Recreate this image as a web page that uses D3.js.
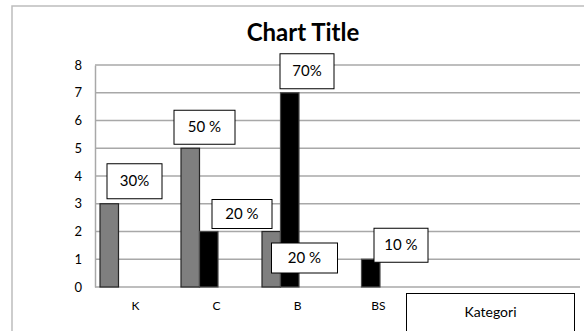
<!DOCTYPE html>
<html>
<head>
<meta charset="utf-8">
<script src="https://cdn.jsdelivr.net/npm/d3@7"></script>
<style>
  html, body { margin: 0; padding: 0; background: #fff; }
  svg { display: block; font-family: Lato, "Open Sans", sans-serif; }
</style>
</head>
<body>
<svg id="chart" width="584" height="331"></svg>
<script>
// Categories and the two series of counts
const categories = ["K", "C", "B", "BS"];
const seriesNames = ["Series 1", "Series 2"];
const series1 = [3, 5, 2, 0];
const series2 = [0, 2, 7, 1];
const yTicks = [0, 1, 2, 3, 4, 5, 6, 7, 8];

// Percentage callouts: category, series, text
const calloutCats = ["K", "C", "C", "B", "B", "BS"];
const calloutSeries = [0, 0, 1, 1, 0, 1];
const calloutText = ["30%", "50 %", "20 %", "70%", "20 %", "10 %"];

const axisTitle = "Kategori";
const chartTitle = "Chart Title";

// Box placement for each callout, relative to its bar (drawing layout only)
const calloutLayout = [
  { dx: 7,    dy: -40, w: 55, h: 35 },
  { dx: -7,   dy: -38, w: 61, h: 34 },
  { dx: 12.5, dy: -32, w: 60, h: 29 },
  { dx: -0.5, dy: -39, w: 54, h: 35 },
  { dx: 9.5,  dy: 11.5, w: 66, h: 30 },
  { dx: 12.5, dy: -31, w: 54, h: 34 }
];

const svg = d3.select("#chart");
const W = 584, H = 331;
const plot = { left: 95, right: 580, top: 65, bottom: 287 };

// Outer chart frame (right and bottom edges fall outside the view)
svg.append("path")
  .attr("d", `M12,${H + 2} L12,6 L${W + 2},6`)
  .attr("fill", "none")
  .attr("stroke", "#bdbdbd")
  .attr("stroke-width", 1.5);

// Title
svg.append("text")
  .attr("x", 303)
  .attr("y", 41)
  .attr("text-anchor", "middle")
  .attr("font-weight", "bold")
  .attr("font-size", 24)
  .attr("fill", "#000")
  .text(chartTitle);

// Scales
const y = d3.scaleLinear().domain([0, 8]).range([plot.bottom, plot.top]);
const x0 = d3.scaleBand().domain(categories).range([plot.left, plot.left + 81 * categories.length]);
const x1 = d3.scaleBand().domain(d3.range(seriesNames.length)).range([5, 42]);

// Gridlines
svg.append("g")
  .selectAll("line")
  .data(yTicks)
  .join("line")
  .attr("x1", plot.left)
  .attr("x2", plot.right)
  .attr("y1", d => y(d))
  .attr("y2", d => y(d))
  .attr("stroke", "#a8a8a8")
  .attr("stroke-width", 1.5);

// Y axis
const yAxis = d3.axisLeft(y).tickValues(yTicks).tickSize(0).tickPadding(13).tickFormat(d3.format("d"));
const gy = svg.append("g").attr("transform", `translate(${plot.left},0)`).call(yAxis);
gy.select(".domain").attr("stroke", "#a8a8a8").attr("stroke-width", 1.5);
gy.selectAll("text").attr("font-size", 13).attr("fill", "#000").attr("font-family", "Lato, sans-serif");

// X axis labels
const xAxis = d3.axisBottom(x0).tickSize(0).tickPadding(14);
const gx = svg.append("g").attr("transform", `translate(0,${plot.bottom})`).call(xAxis);
gx.select(".domain").remove();
gx.selectAll("text").attr("font-size", 12).attr("fill", "#000").attr("font-family", "Lato, sans-serif");

// Bars
const fills = ["#7f7f7f", "#000000"];
const strokes = ["#262626", "#4a4a4a"];
const rows = [];
categories.forEach((c, i) => {
  [series1, series2].forEach((s, k) => {
    if (s[i] > 0) rows.push({ cat: c, k, v: s[i] });
  });
});
svg.append("g")
  .selectAll("rect")
  .data(rows)
  .join("rect")
  .attr("x", d => x0(d.cat) + x1(d.k))
  .attr("y", d => y(d.v))
  .attr("width", x1.bandwidth())
  .attr("height", d => y(0) - y(d.v))
  .attr("fill", d => fills[d.k])
  .attr("stroke", d => strokes[d.k])
  .attr("stroke-width", 1.2);

// Callout boxes
const callouts = calloutCats.map((c, i) => {
  const k = calloutSeries[i];
  const v = (k === 0 ? series1 : series2)[categories.indexOf(c)];
  const L = calloutLayout[i];
  return {
    x: x0(c) + x1(k) + L.dx,
    y: y(v) + L.dy,
    w: L.w, h: L.h, text: calloutText[i]
  };
});
const cg = svg.append("g").selectAll("g").data(callouts).join("g")
  .attr("transform", d => `translate(${d.x},${d.y})`);
cg.append("rect")
  .attr("width", d => d.w)
  .attr("height", d => d.h)
  .attr("fill", "#fff")
  .attr("stroke", "#000")
  .attr("stroke-width", 1);
cg.append("text")
  .attr("x", d => d.w / 2)
  .attr("y", d => d.h / 2 + 5)
  .attr("text-anchor", "middle")
  .attr("font-size", 15)
  .attr("fill", "#000")
  .text(d => d.text);

// Axis title box
const tb = svg.append("g").attr("transform", "translate(406.5,293.5)");
tb.append("rect")
  .attr("width", 168)
  .attr("height", 60)
  .attr("fill", "#fff")
  .attr("stroke", "#000")
  .attr("stroke-width", 1);
tb.append("text")
  .attr("x", 84)
  .attr("y", 23)
  .attr("text-anchor", "middle")
  .attr("font-size", 14)
  .attr("fill", "#000")
  .text(axisTitle);
</script>
</body>
</html>
